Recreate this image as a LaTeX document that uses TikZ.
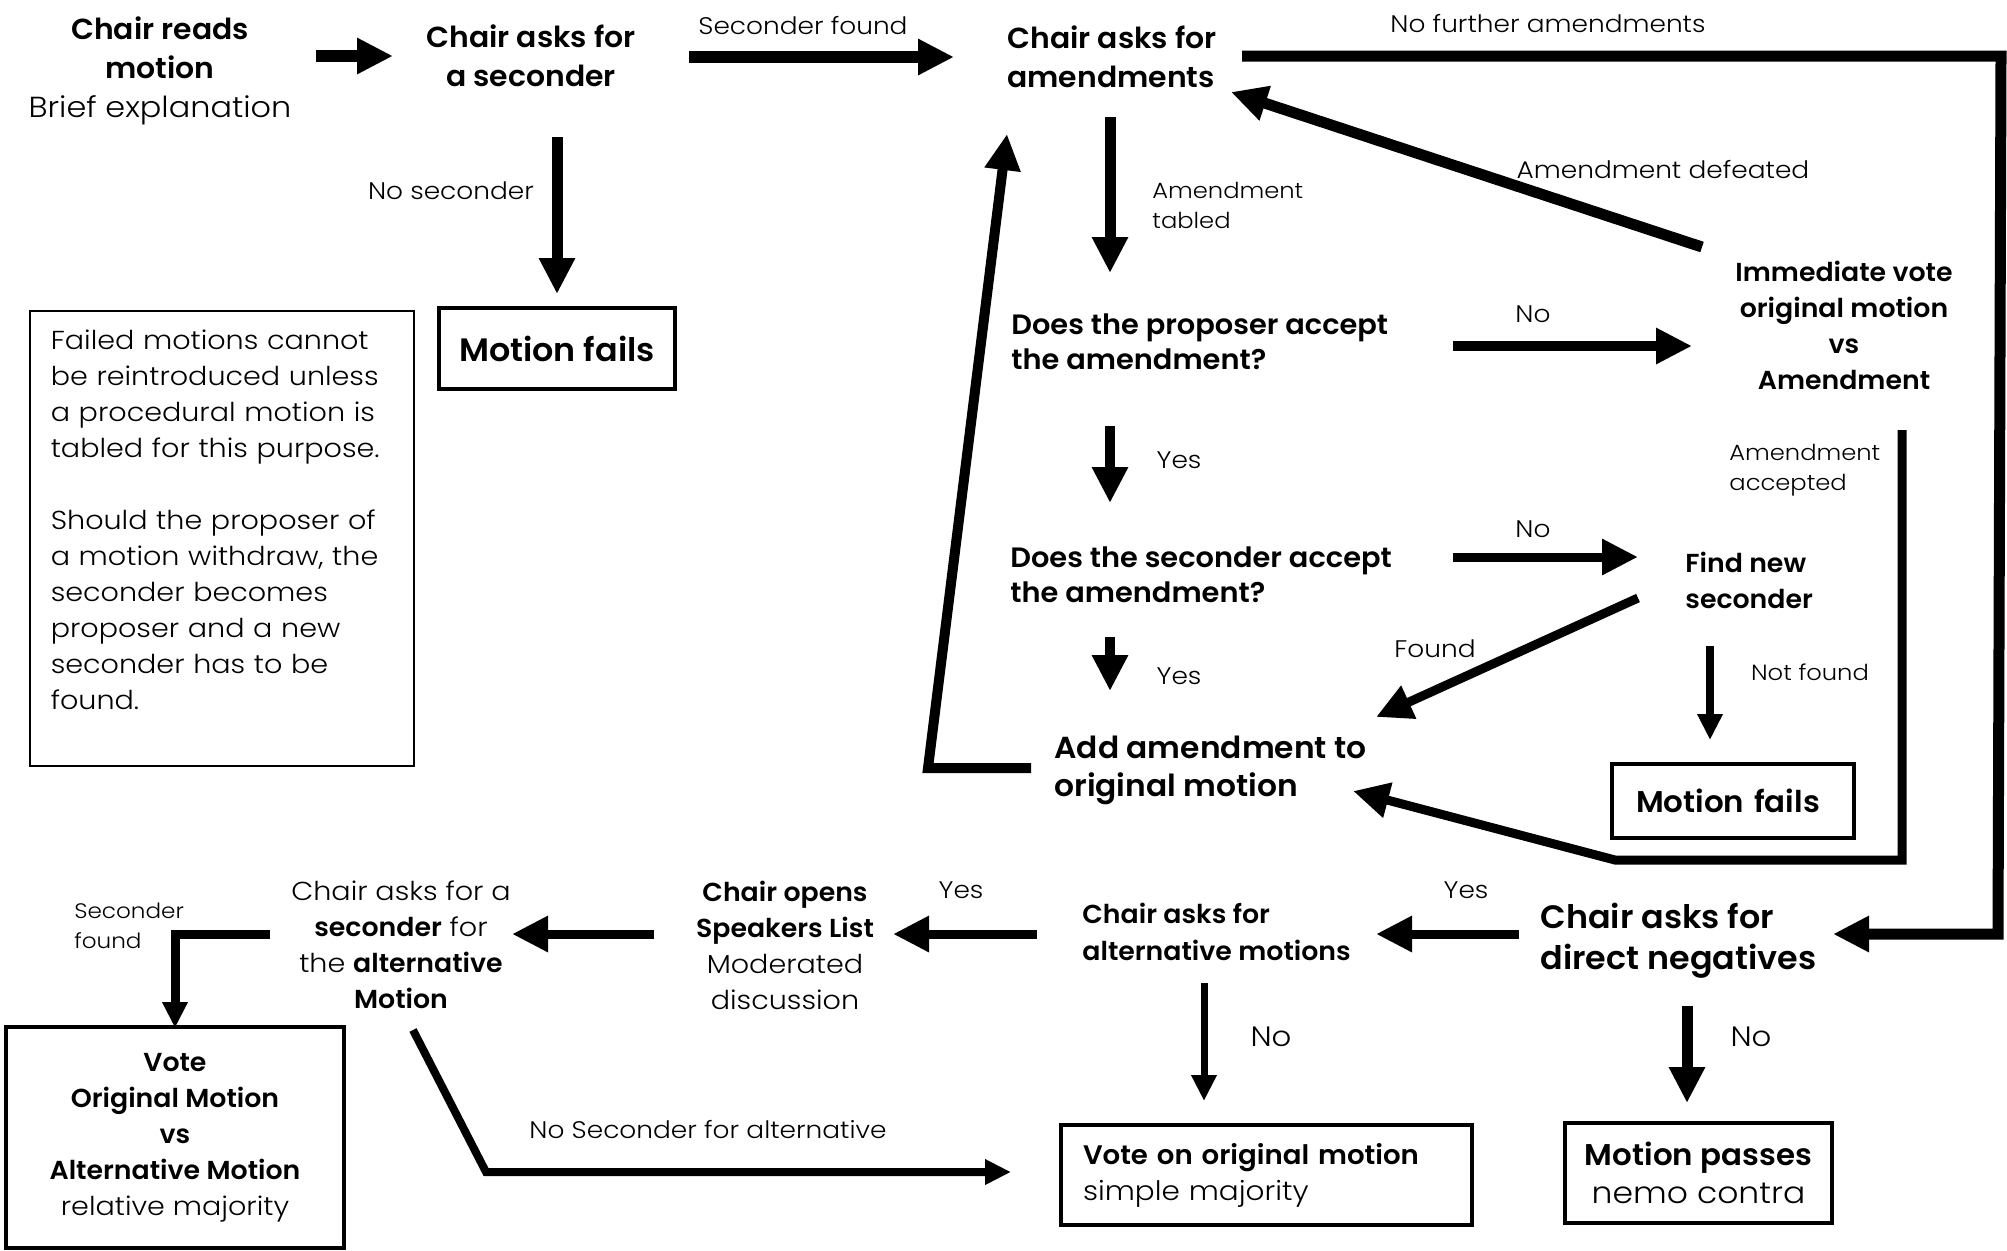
\documentclass[tikz,border=0pt]{standalone}
\usepackage{fontspec}
\setmainfont{Poppins}[UprightFont={Poppins Light}, UprightFeatures={FakeStretch=1.1}, BoldFont={Poppins SemiBold}, BoldFeatures={FakeStretch=1.03}]
\usetikzlibrary{arrows.meta}
\begin{document}
\begin{tikzpicture}[x=0.5pt,y=-0.5pt,
  txt/.style={inner sep=0pt, align=center},
  ltxt/.style={inner sep=0pt, align=left, anchor=west},
  fB/.style={font=\bfseries\fontsize{14.5}{19.5}\selectfont},
  fQ/.style={font=\bfseries\fontsize{14}{17.5}\selectfont},
  fM/.style={font=\bfseries\fontsize{13}{18}\selectfont},
  fL/.style={font=\bfseries\fontsize{16.2}{20.5}\selectfont},
  fN/.style={font=\fontsize{13}{18}\selectfont},
  lab/.style={inner sep=0pt, font=\fontsize{12}{14}\selectfont},
  slab/.style={inner sep=0pt, align=left, anchor=west, font=\fontsize{11}{15}\selectfont},
  box/.style={draw, line width=1.7pt, inner sep=0pt},
  big/.style={-{Triangle[length=18pt,width=17pt]}},
  small/.style={-{Triangle[length=13pt,width=12pt]}},
  w6/.style={line width=6pt},
  w55/.style={line width=5.5pt},
  w5/.style={line width=5pt},
  w45/.style={line width=4.5pt},
  w4/.style={line width=4pt},
  w35/.style={line width=3.5pt}
]
\useasboundingbox[fill=white] (0,0) rectangle (2007,1250);

% ---------- nodes ----------
\node[txt, font=\fontsize{14.5}{19.5}\selectfont] (readm) at (160,71) {\textbf{Chair reads}\\\textbf{motion}\\Brief explanation};
\node[txt, fB] (askSec) at (531,56) {Chair asks for\\a seconder};
\node[ltxt, fB] (askAm) at (1007,57) {Chair asks for\\amendments};
\node[ltxt, fQ] (propAcc) at (1011,342) {Does the proposer accept\\the amendment?};
\node[txt, fM] (immVote) at (1844,325) {Immediate vote\\original motion\\vs\\Amendment};
\node[ltxt, fQ] (secAcc) at (1010,575) {Does the seconder accept\\the amendment?};
\node[ltxt, fM] (findNew) at (1685,580) {Find new\\seconder};
\node[ltxt, font=\bfseries\fontsize{15.2}{19}\selectfont] (addAm) at (1054,770) {Add amendment to\\original motion};
\node[box, font=\bfseries\fontsize{15}{18}\selectfont, minimum width=121pt, minimum height=37pt, text width=97pt, align=left] (fails2) at (1733,801) {Motion fails};
\node[box, fL, minimum width=118pt, minimum height=40.5pt] (fails1) at (557,348.5) {Motion fails};
\node[draw, line width=0.8pt, anchor=north west, inner xsep=10.5pt, inner ysep=0pt, text width=171pt, minimum height=227.5pt, align=left, fN] (note) at (29,310)
  {Failed motions cannot\\be reintroduced unless\\a procedural motion is\\tabled for this purpose.\\[18pt]Should the proposer of\\a motion withdraw, the\\seconder becomes\\proposer and a new\\seconder has to be\\found.\\[1pt]\mbox{}};

\node[ltxt, fL] (dirNeg) at (1540,941) {Chair asks for\\direct negatives};
\node[ltxt, font=\bfseries\fontsize{13}{18.5}\selectfont] (altMot) at (1082,932) {Chair asks for\\alternative motions};
\node[txt, fN] (chairOpens) at (785,945) {\textbf{Chair opens}\\\textbf{Speakers List}\\Moderated\\discussion};
\node[txt, fN] (askAlt) at (401,945) {Chair asks for a\\\textbf{seconder} for\\the \textbf{alternative}\\\textbf{Motion}};
\node[box, line width=1.8pt, minimum width=169pt, minimum height=110.5pt, align=center, fN] (voteAlt) at (175,1137.5) {\textbf{Vote}\\\textbf{Original Motion}\\\textbf{vs}\\\textbf{Alternative Motion}\\relative majority};
\node[box, minimum width=205.5pt, minimum height=50pt, text width=183.5pt, align=left, font=\fontsize{13.4}{18}\selectfont] (voteOrig) at (1266.5,1175) {\textbf{Vote on original motion}\\simple majority};
\node[box, minimum width=133.5pt, minimum height=50pt, align=center, font=\fontsize{15}{19}\selectfont] (passes) at (1698.5,1173) {\textbf{Motion passes}\\nemo contra};

% ---------- labels ----------
\node[lab] (lSecF) at (803,26) {Seconder found};
\node[lab] (lNoFur) at (1548,24) {No further amendments};
\node[lab] (lNoSec) at (451,191) {No seconder};
\node[slab] (lTab) at (1152,205) {Amendment\\tabled};
\node[lab] (lDef) at (1663,169) {Amendment defeated};
\node[lab] (lNo1) at (1533,314) {No};
\node[lab] (lYes1) at (1179,460) {Yes};
\node[slab] (lAcc) at (1729,470) {Amendment\\accepted};
\node[lab] (lNo2) at (1533,529) {No};
\node[lab] (lFound) at (1435,649) {Found};
\node[lab] (lYes2) at (1179,676) {Yes};
\node[lab, font=\fontsize{11}{13}\selectfont] (lNotF) at (1810,672) {Not found};
\node[lab] (lYes3) at (1466,890) {Yes};
\node[lab] (lYes4) at (961,890) {Yes};
\node[slab, font=\fontsize{10.5}{15}\selectfont] (lSecF2) at (74,926) {Seconder\\found};
\node[lab] (lNoAlt) at (708,1129) {No Seconder for alternative};
\node[lab, font=\fontsize{14}{16}\selectfont] (lNo3) at (1271,1037) {No};
\node[lab, font=\fontsize{14}{16}\selectfont] (lNo4) at (1751,1037) {No};

% ---------- connector end points ----------
\coordinate (p1a) at (316,56);   \coordinate (p1b) at (393,56);
\coordinate (p2a) at (689,57);   \coordinate (p2b) at (954,57);
\coordinate (p3a) at (557,137);  \coordinate (p3b) at (557,294);
\coordinate (p4a) at (1110,117); \coordinate (p4b) at (1110,273);
\coordinate (p5a) at (1453,346); \coordinate (p5b) at (1692,346);
\coordinate (p6a) at (1702,247); \coordinate (p6b) at (1231,92);
\coordinate (p7a) at (1110,426); \coordinate (p7b) at (1110,503);
\coordinate (p8a) at (1453,557); \coordinate (p8b) at (1638,557);
\coordinate (p9a) at (1638,598); \coordinate (p9b) at (1376,717);
\coordinate (p10a) at (1710,646); \coordinate (p10b) at (1710,740);
\coordinate (p11a) at (1110,637); \coordinate (p11b) at (1110,691);
\coordinate (p12a) at (1031,768); \coordinate (p12c) at (928,768); \coordinate (p12b) at (1007,134);
\coordinate (p13a) at (1902,430); \coordinate (p13c) at (1902,860); \coordinate (p13d) at (1615,860); \coordinate (p13b) at (1353,791);
\coordinate (p14a) at (1242,56); \coordinate (p14c) at (2001,56); \coordinate (p14d) at (1998,934); \coordinate (p14b) at (1833,934);
\coordinate (p15a) at (1519,934); \coordinate (p15b) at (1376,934);
\coordinate (p16a) at (1037,934); \coordinate (p16b) at (893,934);
\coordinate (p17a) at (654,934);  \coordinate (p17b) at (512,934);
\coordinate (p18a) at (270,934);  \coordinate (p18c) at (175,934); \coordinate (p18b) at (175,1028);
\coordinate (p19a) at (413,1030); \coordinate (p19c) at (486,1172); \coordinate (p19b) at (1011,1172);
\coordinate (p20a) at (1204,983); \coordinate (p20b) at (1204,1101);
\coordinate (p21a) at (1687,1006); \coordinate (p21b) at (1687,1103);

% ---------- connectors ----------
\draw[big, w6] (p1a) -- (p1b);
\draw[big, w6] (p2a) -- (p2b);
\draw[big, w55] (p3a) -- (p3b);
\draw[big, w55] (p4a) -- (p4b);
\draw[big, w5] (p5a) -- (p5b);
\draw[big, w55] (p6a) -- (p6b);
\draw[big, w5] (p7a) -- (p7b);
\draw[big, w45] (p8a) -- (p8b);
\draw[big, w45] (p9a) -- (p9b);
\draw[small, w4] (p10a) -- (p10b);
\draw[big, w5] (p11a) -- (p11b);
\draw[big, w5] (p12a) -- (p12c) -- (p12b);
\draw[big, w45] (p13a) -- (p13c) -- (p13d) -- (p13b);
\draw[big, w55] (p14a) -- (p14c) -- (p14d) -- (p14b);
\draw[big, w45] (p15a) -- (p15b);
\draw[big, w45] (p16a) -- (p16b);
\draw[big, w45] (p17a) -- (p17b);
\draw[small, w45] (p18a) -- (p18c) -- (p18b);
\draw[small, w4] (p19a) -- (p19c) -- (p19b);
\draw[small, w35] (p20a) -- (p20b);
\draw[big, w55] (p21a) -- (p21b);
\end{tikzpicture}
\end{document}
